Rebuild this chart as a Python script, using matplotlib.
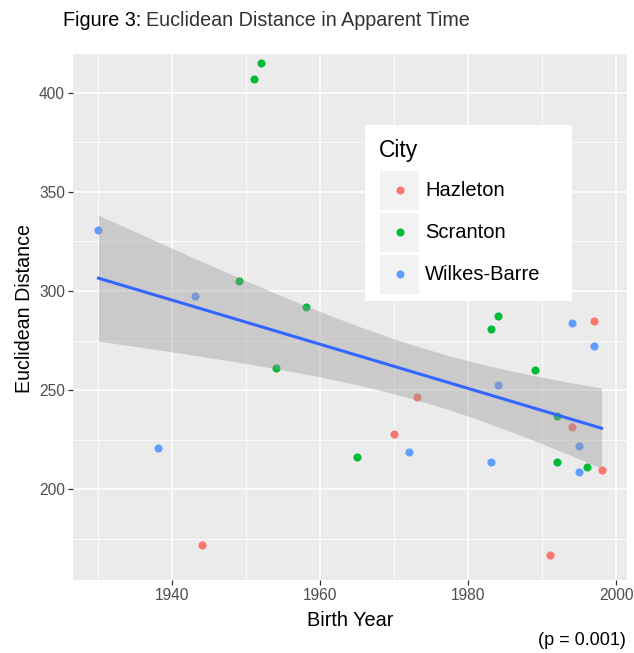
import numpy as np
import matplotlib
matplotlib.use("Agg")
import matplotlib.pyplot as plt
from matplotlib.patches import Rectangle

# ---- data ----
cities = ["Hazleton", "Scranton", "Wilkes-Barre"]
colors = ["#F8766D", "#00BA38", "#619CFF"]

hazleton_year = [1944, 1970, 1973, 1991, 1994, 1997, 1998]
hazleton_dist = [172, 228, 246.5, 167, 231.5, 285, 210]

scranton_year = [1949, 1951, 1952, 1954, 1958, 1965, 1983, 1984, 1989, 1992, 1992, 1996]
scranton_dist = [305, 407, 415, 261, 292, 216.5, 281, 287.5, 260, 237, 214, 211.5]

wb_year = [1930, 1938, 1943, 1972, 1983, 1984, 1994, 1995, 1995, 1997]
wb_dist = [331, 221, 297.5, 219, 214, 252.5, 284, 222, 208.5, 272.5]

x_ticks = [1940, 1960, 1980, 2000]
y_ticks = [200, 250, 300, 350, 400]
x_minor = [1930, 1950, 1970, 1990]
y_minor = [175, 225, 275, 325, 375]
p_label = "(p = 0.001)"

W, H = 634, 653
fig = plt.figure(figsize=(W / 100, H / 100), dpi=100)
plt.rcParams['font.family'] = ['Liberation Sans', 'DejaVu Sans']

def fx(px):
    return px / W

def fy(py):
    return 1 - py / H

ax = fig.add_axes([fx(73.3), fy(580), fx(626.7) - fx(73.3), fy(54) - fy(580)])
ax.set_facecolor("#EBEBEB")
for s in ax.spines.values():
    s.set_visible(False)

ax.set_xlim(1926.6, 2001.4)
ax.set_ylim(154.3, 419.5)
ax.set_xticks(x_ticks)
ax.set_yticks(y_ticks)
ax.set_xticks(x_minor, minor=True)
ax.set_yticks(y_minor, minor=True)
ax.grid(True, which="major", color="white", linewidth=1.1)
ax.grid(True, which="minor", color="white", linewidth=0.55)
ax.set_axisbelow(True)
ax.tick_params(which="major", length=3.5, width=0.9, color="#333333",
               labelcolor="#4D4D4D", labelsize=11.2, pad=2.5)
ax.tick_params(which="minor", length=0)

groups = [(hazleton_year, hazleton_dist), (scranton_year, scranton_dist), (wb_year, wb_dist)]
for (xs, ys), c in zip(groups, colors):
    ax.scatter(xs, ys, s=34, color=c, linewidths=0, zorder=2)

# linear fit with confidence band
allx = np.array(hazleton_year + scranton_year + wb_year, dtype=float)
ally = np.array(hazleton_dist + scranton_dist + wb_dist, dtype=float)
n = len(allx)
b1, b0 = np.polyfit(allx, ally, 1)
resid = ally - (b0 + b1 * allx)
s = np.sqrt(np.sum(resid ** 2) / (n - 2))
xm = allx.mean()
sxx = np.sum((allx - xm) ** 2)
band_mult = 1.35
xg = np.linspace(allx.min(), allx.max(), 80)
yg = b0 + b1 * xg
se = s * np.sqrt(1 / n + (xg - xm) ** 2 / sxx)
ax.fill_between(xg, yg - band_mult * se, yg + band_mult * se, color="#999999", alpha=0.4,
                linewidth=0, zorder=3)
ax.plot(xg, yg, color="#3366FF", linewidth=2.2, zorder=4)

# legend (drawn manually)
fig.patches.append(Rectangle((fx(365), fy(300.7)), fx(571.7) - fx(365), fy(125) - fy(300.7),
                             transform=fig.transFigure, facecolor="white", edgecolor="none", zorder=5))
fig.text(fx(379), fy(150), "City", fontsize=16.5, color="black", va="center", ha="left", zorder=6)
key_y = [190, 232, 274]
for lab, c, ky in zip(cities, colors, key_y):
    fig.patches.append(Rectangle((fx(380), fy(ky + 19.5)), fx(419) - fx(380), fy(ky - 19.5) - fy(ky + 19.5),
                                 transform=fig.transFigure, facecolor="#F2F2F2",
                                 edgecolor="none", zorder=6))
    fig.lines.append(plt.Line2D([fx(399.5)], [fy(ky)], transform=fig.transFigure, marker="o",
                                markersize=5.8, color=c, markeredgewidth=0, zorder=7))
    fig.text(fx(425), fy(ky), lab, fontsize=14.5, color="black", va="center", ha="left", zorder=7)

# labels
fig.text(fx(350), fy(620), "Birth Year", fontsize=14.3, color="black", ha="center", va="center")
fig.text(fx(25), fy(309), "Euclidean Distance", fontsize=14.1, color="black",
         ha="center", va="center", rotation=90)
fig.text(fx(626), fy(640.5), p_label, fontsize=13, color="black", ha="right", va="center")

t1 = fig.text(fx(63), fy(20), "Figure 3:", fontsize=14.2, color="black", ha="left", va="center")
fig.canvas.draw()
bb = t1.get_window_extent()
fig.text(bb.x1 / W + 4.5 / W, fy(20), "Euclidean Distance in Apparent Time", fontsize=14.2,
         color="#333333", ha="left", va="center")

fig.savefig("out.png", dpi=100)
